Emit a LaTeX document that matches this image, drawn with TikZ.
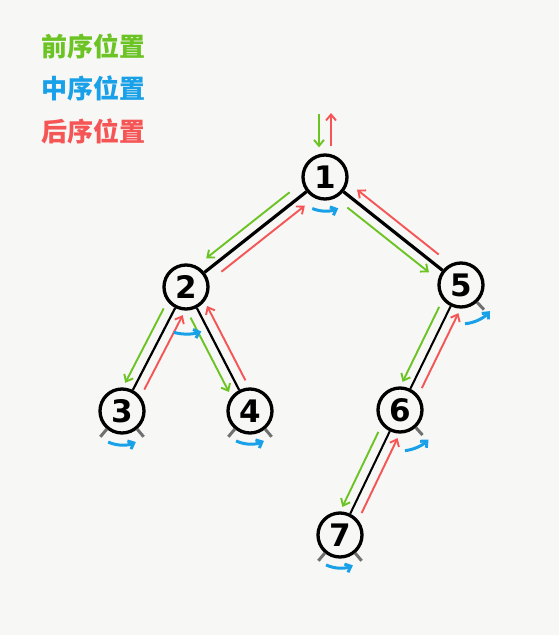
\documentclass[tikz,border=0pt]{standalone}
\usepackage{fontspec}
\setmainfont{DejaVu Sans}
\newfontfamily\cjkfont{Noto Sans CJK SC}
\usetikzlibrary{calc,arrows.meta}

\definecolor{preGreen}{RGB}{108,196,36}
\definecolor{inBlue}{RGB}{24,160,232}
\definecolor{postRed}{RGB}{245,85,85}
\definecolor{nullGray}{RGB}{112,112,112}
\definecolor{paper}{RGB}{247,247,245}

% one walk along an edge, kept to the right of the way it goes
\newcommand{\walk}[3]{%
  \draw[#3] ($(#1)!0.21!(#2)!10pt!-90:(#2)$) -- ($(#1)!0.81!(#2)!10pt!-90:(#2)$);}
\newcommand{\nullstub}[2]{%
  \draw[stub] (#1.#2) -- ++(#2:10pt);}
\newcommand{\inarc}[4]{%
  \draw[inorder] ([shift={(#2:#4)}]#1.center) arc[start angle=#2, end angle=#3, radius=#4];}

\tikzset{
  treenode/.style={circle, draw, line width=3.3pt, minimum size=44pt, inner sep=0pt,
    font=\bfseries\fontsize{31}{31}\selectfont},
  legend/.style={anchor=west, font=\cjkfont\bfseries\fontsize{26}{26}\selectfont},
  pre/.style={preGreen, line width=1.9pt, -{Straight Barb[length=6pt,width=10pt]}},
  post/.style={postRed, line width=1.9pt, -{Straight Barb[length=6pt,width=10pt]}},
  inorder/.style={inBlue, line width=3pt, -{Straight Barb[length=5pt,width=9pt]}},
  stub/.style={nullGray, line width=3pt}
}

\begin{document}
\begin{tikzpicture}[x=1pt, y=-1pt]
    \fill[paper] (0,0) rectangle (559,635);

    \node[legend, text=preGreen] (legpre) at (38,46) {前序位置};
    \node[legend, text=inBlue] (legin) at (38,88) {中序位置};
    \node[legend, text=postRed] (legpost) at (38,131) {后序位置};

    \node[treenode] (n1) at (325,177) {1};
    \node[treenode] (n2) at (186,287) {2};
    \node[treenode] (n5) at (461,285) {5};
    \node[treenode] (n3) at (122,411) {3};
    \node[treenode] (n4) at (250,411) {4};
    \node[treenode] (n6) at (400,410) {6};
    \node[treenode] (n7) at (340,535) {7};

    \draw[line width=3.2pt] (n1) -- (n2);
    \draw[line width=3.2pt] (n1) -- (n5);
    \draw[line width=2.2pt] (n2) -- (n3);
    \draw[line width=2.2pt] (n2) -- (n4);
    \draw[line width=2pt] (n5) -- (n6);
    \draw[line width=2pt] (n6) -- (n7);

    % coming in at the root and going back out
    \coordinate (rootin) at (319,114);
    \coordinate (rootout) at (331,113);
    \draw[pre] (rootin) -- ([xshift=-6pt,yshift=6pt]n1.north);
    \draw[post] ([xshift=6pt,yshift=7pt]n1.north) -- (rootout);

    \walk{n1}{n2}{pre}  \walk{n2}{n1}{post}
    \walk{n1}{n5}{pre}  \walk{n5}{n1}{post}
    \walk{n2}{n3}{pre}  \walk{n3}{n2}{post}
    \walk{n2}{n4}{pre}  \walk{n4}{n2}{post}
    \walk{n5}{n6}{pre}  \walk{n6}{n5}{post}
    \walk{n6}{n7}{pre}  \walk{n7}{n6}{post}

    \nullstub{n3}{230} \nullstub{n3}{310}
    \nullstub{n4}{230} \nullstub{n4}{310}
    \nullstub{n7}{230} \nullstub{n7}{310}
    \nullstub{n5}{313}
    \nullstub{n6}{312}

    \inarc{n1}{248}{293}{34pt}
    \inarc{n2}{255}{289}{47pt}
    \inarc{n3}{246}{294}{34pt}
    \inarc{n4}{245}{295}{33pt}
    \inarc{n5}{276}{318}{39pt}
    \inarc{n6}{277}{314}{41pt}
    \inarc{n7}{245}{293}{33pt}
\end{tikzpicture}
\end{document}
